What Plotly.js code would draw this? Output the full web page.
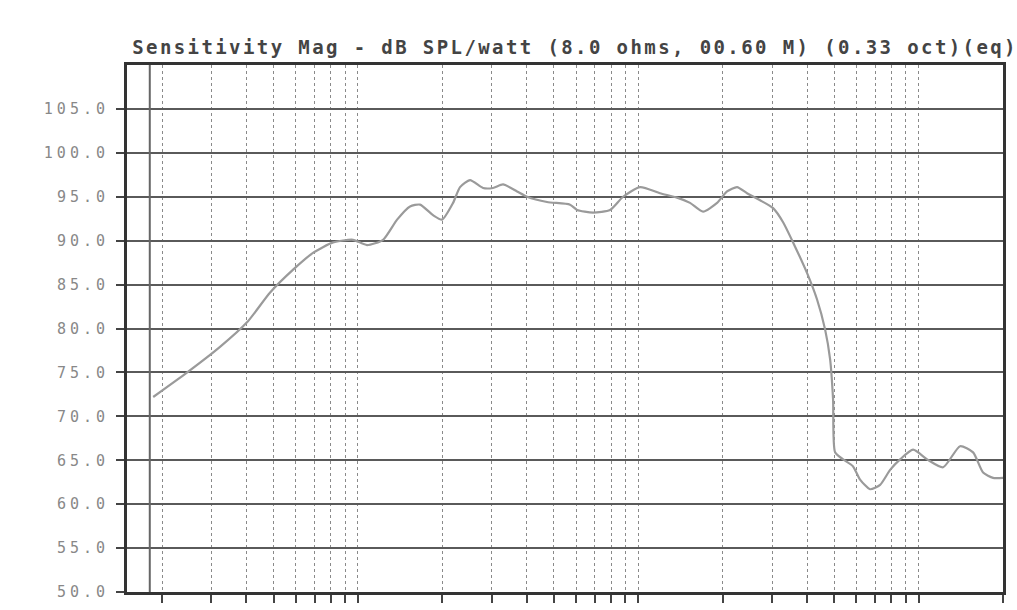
<!DOCTYPE html>
<html>
<head>
<meta charset="utf-8">
<script src="https://cdn.plot.ly/plotly-3.0.1.min.js"></script>
<style>
  html, body { margin: 0; padding: 0; background: #fff; }
  #chart { width: 1017px; height: 610px; }
  .ytick text { letter-spacing: 4px; }
  .gtitle { letter-spacing: 2.4px; }
</style>
</head>
<body>
<div id="chart"></div>
<script>
// Frequency (Hz) and sensitivity (dB SPL / watt)
const freqHz = [18.6, 24.6, 32.2, 40.2, 48.6, 58.7, 69.1, 81.5, 96.0, 107.7, 122.9, 137.9, 153.4, 166.5, 185.3, 199.5, 218.4, 231.3, 251.1, 279.4, 303.2, 329.3, 369.4, 401.0, 472.5, 570.9, 604.7, 689.5, 792.9, 882.4, 1015, 1196, 1375, 1530, 1702, 1910, 2073, 2251, 2443, 2719, 3026, 3285, 3566, 4001, 4342, 4638, 4833, 4953, 5036, 5378, 5837, 6183, 6711, 7289, 7914, 8589, 9559, 10724, 12228, 14058, 15645, 16982, 18435, 20000];
const splDb = [72.2, 75.0, 77.9, 80.7, 84.1, 86.7, 88.6, 89.8, 90.1, 89.5, 90.1, 92.4, 93.9, 94.1, 92.9, 92.4, 94.3, 96.1, 96.9, 96.0, 96.0, 96.4, 95.6, 95.0, 94.4, 94.1, 93.5, 93.2, 93.5, 95.0, 96.1, 95.4, 94.9, 94.3, 93.3, 94.3, 95.6, 96.1, 95.4, 94.6, 93.7, 92.1, 89.8, 86.3, 83.3, 79.9, 76.5, 71.9, 65.9, 65.1, 64.3, 62.8, 61.7, 62.2, 63.9, 65.1, 66.2, 65.1, 64.2, 66.6, 65.9, 63.6, 63.0, 63.0];

// Axis ticks
const xGridHz = [20, 30, 40, 50, 60, 70, 80, 90, 100, 200, 300, 400, 500, 600, 700, 800, 900, 1000, 2000, 3000, 4000, 5000, 6000, 7000, 8000, 9000, 10000, 20000];
const yTickVals = [50, 55, 60, 65, 70, 75, 80, 85, 90, 95, 100, 105];
const yTickText = ["50.0", "55.0", "60.0", "65.0", "70.0", "75.0", "80.0", "85.0", "90.0", "95.0", "100.0", "105.0"];
const titleText = "Sensitivity Mag - dB SPL/watt (8.0 ohms, 00.60 M) (0.33 oct)(eq)";

const trace = {
  x: freqHz,
  y: splDb,
  type: 'scatter',
  mode: 'lines',
  line: { color: '#9a9a9a', width: 2.2, shape: 'spline', smoothing: 0.6 },
  hoverinfo: 'x+y'
};

const layout = {
  width: 1017,
  height: 610,
  paper_bgcolor: '#ffffff',
  plot_bgcolor: '#ffffff',
  margin: { l: 127, r: 14, t: 65, b: 18 },
  showlegend: false,
  title: {
    text: titleText,
    font: { family: 'DejaVu Sans Mono', size: 19, color: '#444', weight: 'bold' },
    xref: 'paper', x: 0.006, xanchor: 'left',
    yref: 'container', y: 0.923, yanchor: 'middle'
  },
  xaxis: {
    type: 'log',
    range: [Math.log10(15), Math.log10(20000)],
    tickmode: 'array',
    tickvals: xGridHz,
    showticklabels: false,
    ticks: 'outside', ticklen: 8, tickwidth: 2, tickcolor: '#444',
    showgrid: true, gridcolor: '#8a8a8a', gridwidth: 1, griddash: '3px,3px',
    showline: true, linecolor: '#333', linewidth: 3, mirror: true,
    zeroline: false
  },
  yaxis: {
    range: [50, 110],
    tickmode: 'array',
    tickvals: yTickVals,
    ticktext: yTickText,
    ticks: 'outside', ticklen: 8, tickwidth: 2, tickcolor: '#444',
    ticklabelstandoff: 4,
    tickfont: { family: 'DejaVu Sans Mono', size: 15, color: '#888' },
    showgrid: true, gridcolor: '#5a5a5a', gridwidth: 2,
    showline: true, linecolor: '#333', linewidth: 3, mirror: true,
    zeroline: false
  },
  shapes: [
    { type: 'line', xref: 'paper', yref: 'paper', x0: 0.026, x1: 0.026, y0: 0, y1: 1,
      line: { color: '#666', width: 2 } }
  ]
};

Plotly.newPlot('chart', [trace], layout, { staticPlot: true, displayModeBar: false });
</script>
</body>
</html>
